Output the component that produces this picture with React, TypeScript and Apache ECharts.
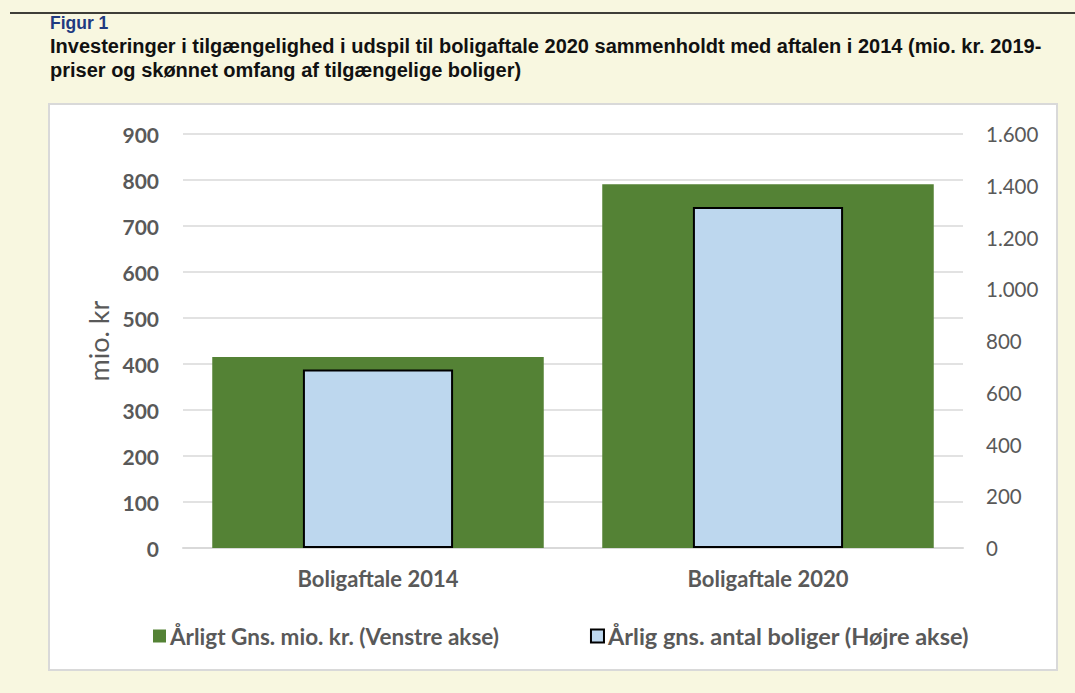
import React, { useEffect, useRef } from "react";
import * as echarts from "echarts";

const categories = ["Boligaftale 2014", "Boligaftale 2020"];
const seriesNames = ["Årligt Gns. mio. kr. (Venstre akse)", "Årlig gns. antal boliger (Højre akse)"];
const mioKr = [415, 791];
const antalBoliger = [690, 1318];
const figLabel = "Figur 1";
const titleLines = [
  "Investeringer i tilgængelighed i udspil til boligaftale 2020 sammenholdt med aftalen i 2014 (mio. kr. 2019-",
  "priser og skønnet omfang af tilgængelige boliger)",
];
const leftAxisName = "mio. kr";

const FONT = "Lato, 'Noto Sans', sans-serif";
const TITLE_FONT = "'Liberation Sans', Arial, sans-serif";

export default function App() {
  const ref = useRef<HTMLDivElement>(null);
  useEffect(() => {
    document.body.style.margin = "0";
    const chart = echarts.init(ref.current!, null, { renderer: "svg" });
    chart.setOption({
      animation: false,
      backgroundColor: "#f8f7e0",
      textStyle: { fontFamily: FONT },
      graphic: [
        { type: "line", shape: { x1: 10, y1: 13, x2: 1075, y2: 13 }, style: { stroke: "#000", lineWidth: 1.5 }, z: 0 },
        { type: "rect", shape: { x: 49, y: 104, width: 1008, height: 566 }, style: { fill: "#ffffff", stroke: "#d9d9d9", lineWidth: 2 }, z: -10 },
        { type: "text", x: 50, y: 14, style: { text: figLabel, fill: "#1f3a80", fontFamily: TITLE_FONT, fontWeight: "bold", fontSize: 17.5 } },
        { type: "text", x: 50, y: 36, style: { text: titleLines[0], fill: "#111", fontFamily: TITLE_FONT, fontWeight: "bold", fontSize: 20 } },
        { type: "text", x: 50, y: 60, style: { text: titleLines[1], fill: "#111", fontFamily: TITLE_FONT, fontWeight: "bold", fontSize: 20 } },
      ],
      grid: { left: 183, right: 112, top: 134, bottom: 145 },
      legend: {
        left: 148,
        top: 619,
        itemWidth: 13,
        itemHeight: 13,
        itemGap: 91,
        icon: "rect",
        textStyle: { fontFamily: FONT, fontSize: 22.5, fontWeight: "bold", color: "#595959", padding: [0, 0, 0, -1] },
        data: [
          { name: seriesNames[0] },
          { name: seriesNames[1], textStyle: { fontSize: 23.5 } },
        ],
      },
      xAxis: [
        {
          type: "category",
          data: categories,
          axisLine: { lineStyle: { color: "#d9d9d9", width: 2 } },
          axisTick: { show: false },
          axisLabel: { fontSize: 22, fontWeight: "bold", color: "#595959", margin: 19, fontFamily: FONT },
        },
        {
          type: "category",
          data: categories,
          show: false,
        },
      ],
      yAxis: [
        {
          type: "value",
          min: 0,
          max: 900,
          interval: 100,
          name: leftAxisName,
          nameLocation: "middle",
          nameGap: 70,
          nameRotate: 90,
          nameTextStyle: { fontSize: 27, color: "#595959", fontFamily: FONT },
          axisLine: { show: false },
          axisTick: { show: false },
          axisLabel: { fontSize: 21, fontWeight: "bold", color: "#595959", margin: 24, fontFamily: FONT },
          splitLine: { lineStyle: { color: "#d9d9d9", width: 1.5 } },
        },
        {
          type: "value",
          min: 0,
          max: 1600,
          interval: 200,
          position: "right",
          axisLine: { show: false },
          axisTick: { show: false },
          splitLine: { show: false },
          axisLabel: {
            fontSize: 20.5,
            color: "#595959",
            margin: 23,
            fontFamily: FONT,
            formatter: (v: number) => v.toString().replace(/\B(?=(\d{3})+(?!\d))/g, "."),
          },
        },
      ],
      series: [
        {
          name: seriesNames[0],
          type: "bar",
          data: mioKr,
          xAxisIndex: 0,
          yAxisIndex: 0,
          barWidth: "85%",
          itemStyle: { color: "#548235" },
        },
        {
          name: seriesNames[1],
          type: "bar",
          data: antalBoliger,
          xAxisIndex: 1,
          yAxisIndex: 1,
          barWidth: "38.5%",
          itemStyle: { color: "#bdd7ee", borderColor: "#000", borderWidth: 2 },
        },
      ],
    });
    return () => chart.dispose();
  }, []);
  return <div ref={ref} style={{ width: 1075, height: 693 }} />;
}
